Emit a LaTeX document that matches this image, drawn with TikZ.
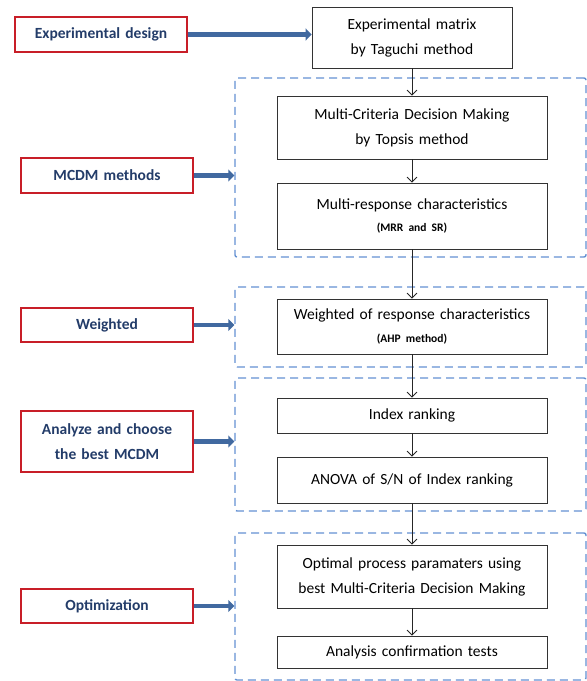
\documentclass[tikz,border=0pt]{standalone}
\usepackage{fontspec}
\setmainfont{Carlito}
\usetikzlibrary{arrows.meta}
\definecolor{stagered}{RGB}{200,30,40}
\definecolor{stagetext}{RGB}{35,60,105}
\definecolor{stagearrow}{RGB}{65,105,160}
\definecolor{groupline}{RGB}{100,145,210}
\begin{document}
\begin{tikzpicture}[x=1pt, y=-1pt,
    stage/.style={draw=stagered, line width=1.8pt, minimum width=172pt, text width=165pt, align=center,
      font=\fontsize{15.5}{25}\selectfont\bfseries, text=stagetext, inner sep=0pt},
    stepbox/.style={draw=black!80, thick, text width=270pt, align=center,
      font=\fontsize{15.5}{25}\selectfont, inner sep=0pt},
    group/.style={draw=groupline, line width=1.4pt, dash pattern=on 8pt off 5pt, rounded corners=2pt, inner sep=0pt},
    flow/.style={-{Straight Barb[length=5pt,width=10pt]}, black!85, thick},
    feed/.style={-{Triangle[length=6pt,width=12pt]}, stagearrow, line width=4.5pt}]
        \useasboundingbox (0,0) rectangle (587,681);

        % Dashed groups
        \node[group, minimum width=351pt, minimum height=179pt] (grp1) at (410.5,167.5) {};
        \node[group, minimum width=351pt, minimum height=80pt] (grp2) at (410.5,327) {};
        \node[group, minimum width=351pt, minimum height=133pt] (grp3) at (410.5,444.5) {};
        \node[group, minimum width=351pt, minimum height=147pt] (grp4) at (410.5,606.5) {};

        % Steps
        \node[stepbox, text width=200pt, minimum height=61pt] (matrix) at (412,37.5) {Experimental matrix\\ by Taguchi method};
        \node[stepbox, minimum height=63pt] (topsis) at (412,127.5) {Multi-Criteria Decision Making\\ by Topsis method};
        \node[stepbox, minimum height=66pt] (mrr) at (412,216) {Multi-response characteristics\\[-3pt] {\fontsize{11.5}{14}\selectfont\bfseries (MRR and SR)}};
        \node[stepbox, minimum height=55pt] (ahp) at (412,326.5) {Weighted of response characteristics\\[-2pt] {\fontsize{11.5}{14}\selectfont\bfseries (AHP method)}};
        \node[stepbox, minimum height=35pt] (index) at (412,415.5) {Index ranking};
        \node[stepbox, minimum height=46pt] (anova) at (412,480) {ANOVA of S/N of Index ranking};
        \node[stepbox, minimum height=63pt] (optimal) at (412,576.5) {Optimal process paramaters using\\ best Multi-Criteria Decision Making};
        \node[stepbox, minimum height=32pt] (confirm) at (412,652) {Analysis confirmation tests};

        % Stages
        \node[stage, minimum height=35pt] (design) at (101,34.5) {Experimental design};
        \node[stage, minimum height=35pt] (mcdm) at (107,175.5) {MCDM methods};
        \node[stage, minimum height=34pt] (weighted) at (107,325) {Weighted};
        \node[stage, minimum height=61pt] (analyze) at (107,441.5) {Analyze and choose\\ the best MCDM};
        \node[stage, minimum height=34pt] (optim) at (107,606) {Optimization};

        % Flow
        \draw[flow] (matrix) -- (topsis);
        \draw[flow] (topsis) -- (mrr);
        \draw[flow] (mrr) -- (ahp);
        \draw[flow] (ahp) -- (index);
        \draw[flow] (index) -- (anova);
        \draw[flow] (anova) -- (optimal);
        \draw[flow] (optimal) -- (confirm);

        % Stage arrows
        \draw[feed] (design.east) -- (matrix.west |- design.east);
        \draw[feed] (mcdm.east) -- (mcdm.east -| grp1.west);
        \draw[feed] (weighted.east) -- (weighted.east -| grp2.west);
        \draw[feed] (analyze.east) -- (analyze.east -| grp3.west);
        \draw[feed] (optim.east) -- (optim.east -| grp4.west);
      \end{tikzpicture}
\end{document}
